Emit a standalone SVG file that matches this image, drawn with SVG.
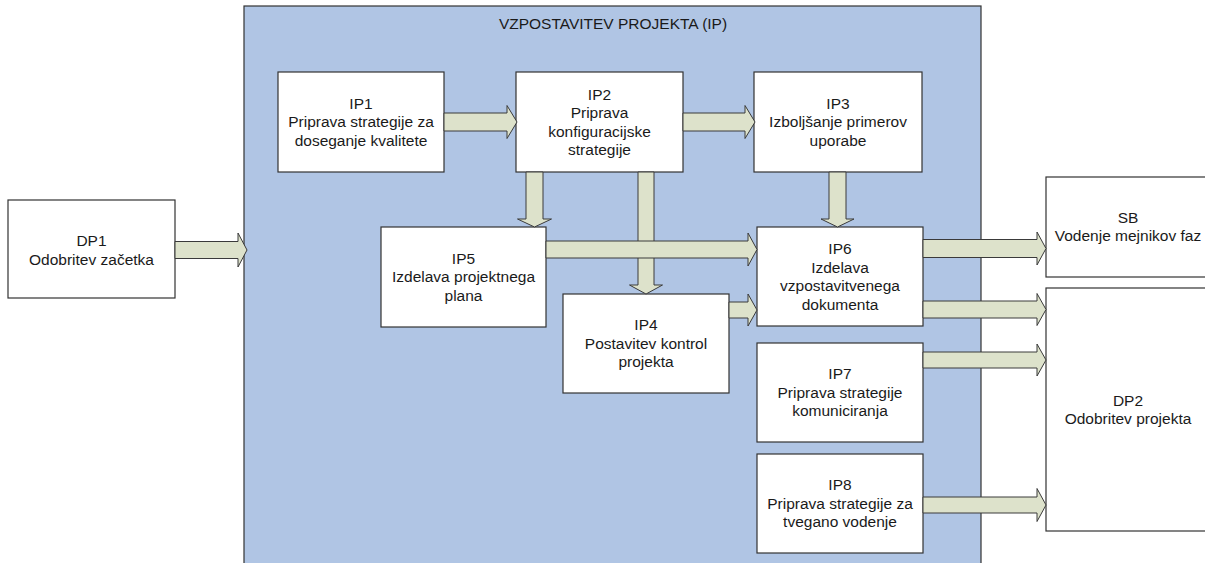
<svg xmlns="http://www.w3.org/2000/svg" width="1205" height="563" viewBox="0 0 1205 563">
  <style>
    .box { fill: #ffffff; stroke: #333333; stroke-width: 1.2; }
    .phase { fill: #b0c5e4; stroke: #333333; stroke-width: 1.2; }
    .flow { fill: #dde2cb; stroke: #3a3a3a; stroke-width: 1; stroke-linejoin: miter; }
    text { font-family: "Liberation Sans", Arial, sans-serif; font-size: 15.5px; fill: #1a1a1a; text-anchor: middle; }
  </style>
  <rect width="1205" height="563" fill="#ffffff"/>

  <!-- phase container -->
  <g id="phase-ip">
    <rect class="phase" x="244" y="6" width="737" height="580"/>
    <text x="613" y="29">VZPOSTAVITEV PROJEKTA (IP)</text>
  </g>

  <g id="dp1">
    <rect class="box" x="8" y="200" width="167" height="98"/>
    <text x="91.5" y="246">DP1</text>
    <text x="91.5" y="264.5">Odobritev začetka</text>
  </g>

  <g id="ip1">
    <rect class="box" x="278" y="72" width="166" height="100"/>
    <text x="361" y="108.5">IP1</text>
    <text x="361" y="127">Priprava strategije za</text>
    <text x="361" y="145.5">doseganje kvalitete</text>
  </g>

  <g id="ip2">
    <rect class="box" x="516" y="72" width="167" height="100"/>
    <text x="599.5" y="99.5">IP2</text>
    <text x="599.5" y="118">Priprava</text>
    <text x="599.5" y="136.5">konfiguracijske</text>
    <text x="599.5" y="155">strategije</text>
  </g>

  <g id="ip3">
    <rect class="box" x="754" y="72" width="168" height="100"/>
    <text x="838" y="108.5">IP3</text>
    <text x="838" y="127">Izboljšanje primerov</text>
    <text x="838" y="145.5">uporabe</text>
  </g>

  <g id="ip5">
    <rect class="box" x="381" y="227" width="165" height="100"/>
    <text x="463.5" y="263.5">IP5</text>
    <text x="463.5" y="282">Izdelava projektnega</text>
    <text x="463.5" y="300.5">plana</text>
  </g>

  <g id="ip4">
    <rect class="box" x="563" y="294" width="166" height="99"/>
    <text x="646" y="330">IP4</text>
    <text x="646" y="348.5">Postavitev kontrol</text>
    <text x="646" y="367">projekta</text>
  </g>

  <g id="ip6">
    <rect class="box" x="757" y="227" width="166" height="99"/>
    <text x="840" y="254">IP6</text>
    <text x="840" y="272.5">Izdelava</text>
    <text x="840" y="291">vzpostavitvenega</text>
    <text x="840" y="309.5">dokumenta</text>
  </g>

  <g id="ip7">
    <rect class="box" x="757" y="343" width="166" height="99"/>
    <text x="840" y="379">IP7</text>
    <text x="840" y="397.5">Priprava strategije</text>
    <text x="840" y="416">komuniciranja</text>
  </g>

  <g id="ip8">
    <rect class="box" x="757" y="454" width="166" height="99"/>
    <text x="840" y="490">IP8</text>
    <text x="840" y="508.5">Priprava strategije za</text>
    <text x="840" y="527">tvegano vodenje</text>
  </g>

  <g id="sb">
    <rect class="box" x="1046" y="177" width="170" height="100"/>
    <text x="1128" y="222.5">SB</text>
    <text x="1128" y="241">Vodenje mejnikov faz</text>
  </g>

  <g id="dp2">
    <rect class="box" x="1046" y="288" width="170" height="243"/>
    <text x="1128" y="405.5">DP2</text>
    <text x="1128" y="424">Odobritev projekta</text>
  </g>

  <!-- block arrows between steps -->
  <g id="connectors">
    <!-- DP1 -> IP -->
    <path class="flow" d="M175,241.5 H238 V233 L247,250 L238,267 V258.5 H175 Z"/>
    <!-- IP1 -> IP2 -->
    <path class="flow" d="M444,113 H507 V105.5 L517,122 L507,138.5 V131 H444 Z"/>
    <!-- IP2 -> IP3 -->
    <path class="flow" d="M683,113 H745 V105.5 L755,122 L745,138.5 V131 H683 Z"/>
    <!-- IP2 -> IP5 -->
    <path class="flow" d="M526,172 V219 H517.5 L534.5,227 L551.5,219 H543 V172 Z"/>
    <!-- IP2 -> IP4 -->
    <path class="flow" d="M638,172 V285 H629.5 L646,294 L662.5,285 H654 V172 Z"/>
    <!-- IP3 -> IP6 -->
    <path class="flow" d="M829,172 V219 H821 L837.5,227 L854,219 H846 V172 Z"/>
    <!-- IP5 -> IP6 -->
    <path class="flow" d="M546,241 H748 V233 L757,249.5 L748,266 V258 H546 Z"/>
    <!-- IP4 -> IP6 -->
    <path class="flow" d="M729,302 H748 V294 L757,310 L748,326 V318 H729 Z"/>
    <!-- IP6 -> SB -->
    <path class="flow" d="M923,239.5 H1037 V232 L1046,248.5 L1037,265 V257.5 H923 Z"/>
    <!-- IP6 -> DP2 -->
    <path class="flow" d="M923,301 H1037 V293.5 L1046,309.5 L1037,325.5 V318 H923 Z"/>
    <!-- IP7 -> DP2 -->
    <path class="flow" d="M923,352 H1037 V344 L1046,360 L1037,376 V368 H923 Z"/>
    <!-- IP8 -> DP2 -->
    <path class="flow" d="M923,497 H1037 V488.5 L1046,505 L1037,521.5 V513 H923 Z"/>
  </g>
</svg>
